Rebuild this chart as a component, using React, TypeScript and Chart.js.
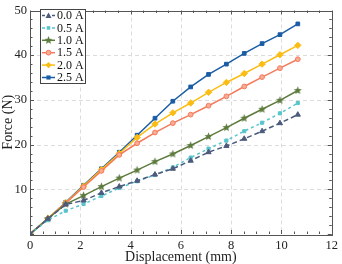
import React, { useEffect, useRef } from "react";
import { Chart, registerables } from "chart.js";

Chart.register(...registerables);

const displacement = [0, 0.71, 1.42, 2.13, 2.84, 3.55, 4.26, 4.97, 5.68, 6.39, 7.1, 7.81, 8.52, 9.23, 9.94, 10.65];
const force00 = [0, 3.4, 6.6, 7.5, 9.2, 10.6, 11.9, 13.3, 14.6, 16.4, 18.3, 19.7, 21.3, 23.0, 24.8, 26.7];
const force05 = [0, 3.1, 5.2, 6.7, 8.5, 10.3, 11.8, 13.2, 14.9, 17.1, 19.1, 20.9, 23.0, 24.9, 27.0, 29.3];
const force10 = [0, 3.4, 6.7, 8.6, 10.6, 12.5, 14.3, 16.2, 17.9, 19.8, 21.8, 23.8, 25.9, 27.9, 29.9, 32.1];
const force15 = [0, 3.4, 6.9, 10.5, 14.1, 17.7, 20.3, 22.7, 24.8, 26.7, 28.7, 30.8, 33.0, 35.1, 37.1, 39.1];
const force20 = [0, 3.5, 7.0, 10.7, 14.4, 18.0, 21.6, 24.6, 27.1, 29.3, 31.7, 33.9, 35.9, 38.0, 40.1, 42.2];
const force25 = [0, 3.4, 7.1, 10.9, 14.6, 18.3, 22.1, 25.9, 29.7, 32.9, 35.7, 38.0, 40.4, 42.6, 44.6, 47.0];
const seriesLabels = ["0.0 A", "0.5 A", "1.0 A", "1.5 A", "2.0 A", "2.5 A"];
const xTickValues = [0, 2, 4, 6, 8, 10, 12];
const yTickValues = [10, 20, 30, 40, 50];

const SERIF = "'Liberation Serif', 'Times New Roman', serif";

function makeStar(color: string, r: number) {
  const c = document.createElement("canvas");
  const s = Math.ceil(r * 2 + 2);
  c.width = s;
  c.height = s;
  const g = c.getContext("2d")!;
  g.fillStyle = color;
  g.beginPath();
  for (let i = 0; i < 10; i++) {
    const rad = i % 2 === 0 ? r : r * 0.45;
    const a = -Math.PI / 2 + (i * Math.PI) / 5;
    const px = s / 2 + rad * Math.cos(a);
    const py = s / 2 + rad * Math.sin(a);
    if (i === 0) g.moveTo(px, py);
    else g.lineTo(px, py);
  }
  g.closePath();
  g.fill();
  return c;
}

export default function App() {
  const ref = useRef<HTMLCanvasElement>(null);
  useEffect(() => {
    document.body.style.margin = "0";
    const star = makeStar("#5e7b3e", 4.2);
    const styles = [
      { color: "#4c5a7c", bg: "#4c5a7c", point: "triangle", r: 3.0, dash: [5, 3] },
      { color: "#58c4cc", bg: "#58c4cc", point: "rect", r: 2.2, dash: [3, 3] },
      { color: "#5e7b3e", bg: "#5e7b3e", point: star, r: 4, dash: [] },
      { color: "#f47a5a", bg: "#f9ab94", point: "circle", r: 2.4, dash: [] },
      { color: "#fbbd14", bg: "#fbbd14", point: "rectRot", r: 3.2, dash: [] },
      { color: "#1a5da6", bg: "#1a5da6", point: "rect", r: 2.6, dash: [] },
    ];
    const all = [force00, force05, force10, force15, force20, force25];
    const datasets = all.map((arr, i) => ({
      label: seriesLabels[i],
      data: arr.map((v, j) => ({ x: displacement[j], y: v })),
      borderColor: styles[i].color,
      backgroundColor: styles[i].bg,
      borderWidth: 1.5,
      borderDash: styles[i].dash,
      pointStyle: styles[i].point as any,
      pointRadius: styles[i].r,
      pointBorderWidth: 1,
      pointBorderColor: styles[i].color,
      tension: 0,
    }));

    const decor = {
      id: "decor",
      beforeDatasetsDraw(chart: any) {
        const { ctx, chartArea } = chart;
        const { left, right, top, bottom } = chartArea;
        const x = chart.scales.x;
        const y = chart.scales.y;
        ctx.save();
        ctx.strokeStyle = "#dcdcdc";
        ctx.lineWidth = 1;
        ctx.setLineDash([4, 3]);
        xTickValues.slice(1, -1).forEach((v) => {
          const px = Math.round(x.getPixelForValue(v)) + 0.5;
          ctx.beginPath();
          ctx.moveTo(px, top);
          ctx.lineTo(px, bottom);
          ctx.stroke();
        });
        yTickValues.slice(0, -1).forEach((v) => {
          const py = Math.round(y.getPixelForValue(v)) + 0.5;
          ctx.beginPath();
          ctx.moveTo(left, py);
          ctx.lineTo(right, py);
          ctx.stroke();
        });
        ctx.setLineDash([]);
        ctx.strokeStyle = "#555";
        ctx.lineWidth = 1;
        ctx.strokeRect(Math.round(left) + 0.5, Math.round(top) + 0.5, Math.round(right - left), Math.round(bottom - top));
        for (let k = 0; k <= 24; k++) {
          const v = k * 0.5;
          const px = Math.round(x.getPixelForValue(v)) + 0.5;
          const len = k % 4 === 0 ? 4 : 2.5;
          ctx.beginPath();
          ctx.moveTo(px, bottom);
          ctx.lineTo(px, bottom - len);
          ctx.moveTo(px, top);
          ctx.lineTo(px, top + len);
          ctx.stroke();
        }
        for (let k = 0; k <= 25; k++) {
          const v = k * 2;
          const py = Math.round(y.getPixelForValue(v)) + 0.5;
          const len = k % 5 === 0 ? 4 : 2.5;
          ctx.beginPath();
          ctx.moveTo(left, py);
          ctx.lineTo(left + len, py);
          ctx.moveTo(right, py);
          ctx.lineTo(right - len, py);
          ctx.stroke();
        }
        ctx.restore();
      },
      afterDraw(chart: any) {
        const { ctx } = chart;
        ctx.save();
        const bx = 40.5, by = 9.5, bw = 45, bh = 74;
        ctx.fillStyle = "#fff";
        ctx.fillRect(bx, by, bw, bh);
        ctx.strokeStyle = "#444";
        ctx.lineWidth = 1;
        ctx.strokeRect(bx, by, bw, bh);
        ctx.font = `12px ${SERIF}`;
        ctx.textBaseline = "middle";
        ctx.textAlign = "left";
        seriesLabels.forEach((lab, i) => {
          const cy = 15.5 + i * 12.4;
          const st = styles[i];
          ctx.strokeStyle = st.color;
          ctx.lineWidth = 1.5;
          ctx.setLineDash(st.dash.length ? [3, 2] : []);
          ctx.beginPath();
          ctx.moveTo(42, cy);
          ctx.lineTo(55, cy);
          ctx.stroke();
          ctx.setLineDash([]);
          ctx.fillStyle = st.bg;
          ctx.strokeStyle = st.color;
          ctx.lineWidth = 1;
          const cx = 48.5;
          const r = st.r;
          if (st.point === "triangle") {
            ctx.beginPath();
            ctx.moveTo(cx, cy - r);
            ctx.lineTo(cx + r, cy + r * 0.8);
            ctx.lineTo(cx - r, cy + r * 0.8);
            ctx.closePath();
            ctx.fill();
          } else if (st.point === "rect") {
            ctx.fillRect(cx - r * 0.8, cy - r * 0.8, r * 1.6, r * 1.6);
          } else if (st.point === "circle") {
            ctx.beginPath();
            ctx.arc(cx, cy, r, 0, Math.PI * 2);
            ctx.fill();
            ctx.stroke();
          } else if (st.point === "rectRot") {
            ctx.beginPath();
            ctx.moveTo(cx, cy - r);
            ctx.lineTo(cx + r, cy);
            ctx.lineTo(cx, cy + r);
            ctx.lineTo(cx - r, cy);
            ctx.closePath();
            ctx.fill();
          } else {
            const img = st.point as HTMLCanvasElement;
            ctx.drawImage(img, cx - img.width / 2, cy - img.height / 2);
          }
          ctx.fillStyle = "#111";
          ctx.fillText(lab, 57, cy + 0.5);
        });
        ctx.restore();
      },
    };

    const chart = new Chart(ref.current!, {
      type: "line",
      data: { datasets },
      options: {
        animation: false,
        responsive: false,
        layout: { padding: { top: 4, right: 4, left: 0, bottom: 0 } },
        plugins: { legend: { display: false }, tooltip: { enabled: false } },
        scales: {
          x: {
            type: "linear",
            min: 0,
            max: 12,
            afterFit: (s: any) => { s.height = 30; },
            afterBuildTicks: (s: any) => { s.ticks = xTickValues.map((v) => ({ value: v })); },
            grid: { display: false, drawTicks: false },
            border: { display: false },
            ticks: { padding: 4, color: "#222", font: { family: SERIF, size: 12.5 }, maxRotation: 0 },
            title: { display: true, text: "Displacement (mm)", color: "#222", font: { family: SERIF, size: 14, lineHeight: 1.0 }, padding: { top: 0, bottom: 0 } },
          },
          y: {
            type: "linear",
            min: 0,
            max: 50,
            afterFit: (s: any) => { s.width = 30; },
            afterBuildTicks: (s: any) => { s.ticks = [0, ...yTickValues].map((v) => ({ value: v })); },
            grid: { display: false, drawTicks: false },
            border: { display: false },
            ticks: { padding: 3, color: "#222", font: { family: SERIF, size: 12.5 }, callback: (v: any) => (v === 0 ? "" : String(v)) },
            title: { display: true, text: "Force (N)", color: "#222", font: { family: SERIF, size: 14 }, padding: { top: 0, bottom: 0 } },
          },
        },
      },
      plugins: [decor],
    });
    return () => chart.destroy();
  }, []);
  return <canvas ref={ref} width={342} height={264} style={{ display: "block" }} />;
}
